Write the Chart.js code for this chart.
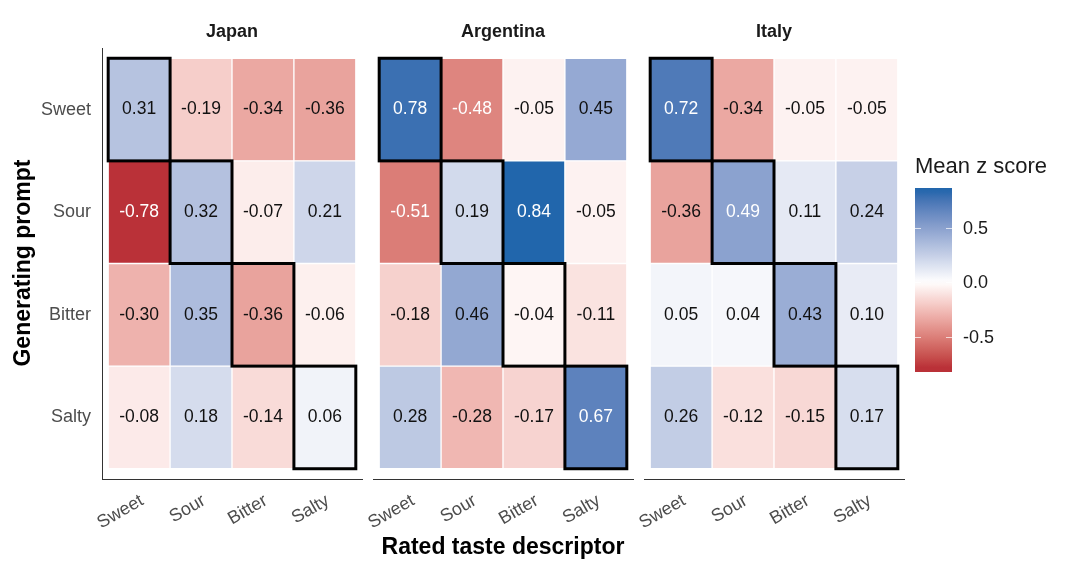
<!DOCTYPE html>
<html>
<head>
<meta charset="utf-8">
<script src="https://cdn.jsdelivr.net/npm/chart.js@4.4.1/dist/chart.umd.min.js"></script>
<style>
  body { margin: 0; background: #fff; }
  #wrap { position: relative; width: 1080px; height: 571px; overflow: hidden;
          font-family: "Liberation Sans", Arial, sans-serif; }
  canvas { position: absolute; top: 0; }
  .ptitle { position: absolute; top: 20px; width: 260px; text-align: center;
            font-weight: bold; font-size: 18px; line-height: 22px; color: #1a1a1a; }
  #xtitle { position: absolute; left: 303px; top: 532px; width: 400px; text-align: center;
            font-weight: bold; font-size: 23px; line-height: 28px; color: #000; }
  #ytitle { position: absolute; left: -128px; top: 249px; width: 300px; height: 28px;
            text-align: center; font-weight: bold; font-size: 23px; line-height: 28px;
            color: #000; transform: rotate(-90deg); }
  #ltitle { position: absolute; left: 915px; top: 153px; font-size: 22px; line-height: 26px; color: #1a1a1a; }
  #cbar { position: absolute; left: 915px; top: 188px; width: 37px; height: 184px; }
  .ltick { position: absolute; left: 963px; font-size: 18px; line-height: 20px; color: #1a1a1a; }
  .tmark { position: absolute; height: 1px; width: 6px; background: rgba(255,255,255,0.7); }
</style>
</head>
<body>
<div id="wrap">
  <canvas id="c0"></canvas>
  <canvas id="c1"></canvas>
  <canvas id="c2"></canvas>
  <div id="xtitle">Rated taste descriptor</div>
  <div id="ytitle">Generating prompt</div>
  <div id="ltitle">Mean z score</div>
  <div id="cbar"></div>
</div>
<script>
// rows = generating prompt, columns = rated taste descriptor
var prompts = ['Sweet', 'Sour', 'Bitter', 'Salty'];
var rated = ['Sweet', 'Sour', 'Bitter', 'Salty'];
var countries = ['Japan', 'Argentina', 'Italy'];

var japan = [
  [0.31, -0.19, -0.34, -0.36],
  [-0.78, 0.32, -0.07, 0.21],
  [-0.30, 0.35, -0.36, -0.06],
  [-0.08, 0.18, -0.14, 0.06]
];
var argentina = [
  [0.78, -0.48, -0.05, 0.45],
  [-0.51, 0.19, 0.84, -0.05],
  [-0.18, 0.46, -0.04, -0.11],
  [0.28, -0.28, -0.17, 0.67]
];
var italy = [
  [0.72, -0.34, -0.05, -0.05],
  [-0.36, 0.49, 0.11, 0.24],
  [0.05, 0.04, 0.43, 0.10],
  [0.26, -0.12, -0.15, 0.17]
];
var legendTicks = [0.5, 0.0, -0.5];

var FONT = '"Liberation Sans", Arial, sans-serif';
Chart.defaults.font.family = FONT;

// colour scale: red - white - blue, interpolated in Lab
function hexToRgb(h) {
  return [parseInt(h.slice(1, 3), 16), parseInt(h.slice(3, 5), 16), parseInt(h.slice(5, 7), 16)];
}
function toLin(c) { c /= 255; return c <= 0.04045 ? c / 12.92 : Math.pow((c + 0.055) / 1.055, 2.4); }
function fromLin(c) {
  var v = c <= 0.0031308 ? 12.92 * c : 1.055 * Math.pow(c, 1 / 2.4) - 0.055;
  return Math.round(Math.max(0, Math.min(1, v)) * 255);
}
function rgbToLab(rgb) {
  var R = toLin(rgb[0]), G = toLin(rgb[1]), B = toLin(rgb[2]);
  var X = (0.4124 * R + 0.3576 * G + 0.1805 * B) / 0.95047;
  var Y = 0.2126 * R + 0.7152 * G + 0.0722 * B;
  var Z = (0.0193 * R + 0.1192 * G + 0.9505 * B) / 1.08883;
  var f = function (t) { return t > 0.008856 ? Math.cbrt(t) : 7.787 * t + 16 / 116; };
  var fx = f(X), fy = f(Y), fz = f(Z);
  return [116 * fy - 16, 500 * (fx - fy), 200 * (fy - fz)];
}
function labToRgb(lab) {
  var fy = (lab[0] + 16) / 116, fx = fy + lab[1] / 500, fz = fy - lab[2] / 200;
  var inv = function (t) { return t * t * t > 0.008856 ? t * t * t : (t - 16 / 116) / 7.787; };
  var X = inv(fx) * 0.95047, Y = inv(fy), Z = inv(fz) * 1.08883;
  return [fromLin(3.2406 * X - 1.5372 * Y - 0.4986 * Z),
          fromLin(-0.9689 * X + 1.8758 * Y + 0.0415 * Z),
          fromLin(0.0557 * X - 0.2040 * Y + 1.0570 * Z)];
}
var lowLab = rgbToLab(hexToRgb('#B2182B'));
var midLab = rgbToLab(hexToRgb('#FFFFFF'));
var highLab = rgbToLab(hexToRgb('#2166AC'));
var allVals = japan.concat(argentina, italy).reduce(function (a, r) { return a.concat(r); }, []);
var vMin = Math.min.apply(null, allVals), vMax = Math.max.apply(null, allVals);
var lim = Math.max(Math.abs(vMin), Math.abs(vMax));

function fill(v) {
  var t = Math.min(1, Math.abs(v) / lim);
  var end = v < 0 ? lowLab : highLab;
  var lab = [0, 1, 2].map(function (k) { return midLab[k] + (end[k] - midLab[k]) * t; });
  var c = labToRgb(lab);
  return 'rgb(' + c[0] + ',' + c[1] + ',' + c[2] + ')';
}

var cellPlugin = {
  id: 'cells',
  afterDatasetsDraw: function (chart) {
    var m = chart.options.plugins.cells.matrix;
    var xs = chart.scales.x, ys = chart.scales.y, ctx = chart.ctx;
    ctx.save();
    // diagonal outlines
    ctx.strokeStyle = '#000';
    ctx.lineWidth = 3;
    for (var i = 0; i < rated.length; i++) {
      var x0 = xs.getPixelForValue(i - 0.5), x1 = xs.getPixelForValue(i + 0.5);
      var y0 = ys.getPixelForValue(prompts.length - i), y1 = ys.getPixelForValue(prompts.length - i - 1);
      ctx.strokeRect(x0, y0, x1 - x0, y1 - y0);
    }
    // values
    ctx.font = '17.5px ' + FONT;
    ctx.textAlign = 'center';
    ctx.textBaseline = 'middle';
    for (var r = 0; r < prompts.length; r++) {
      for (var c = 0; c < rated.length; c++) {
        var v = m[r][c];
        ctx.fillStyle = Math.abs(v) > 0.47 ? '#ffffff' : '#111111';
        ctx.fillText(v.toFixed(2), xs.getPixelForValue(c), ys.getPixelForValue(prompts.length - r - 0.5));
      }
    }
    ctx.restore();
  }
};

function makePanel(idx, matrix, areaLeft, showY) {
  var canvas = document.getElementById('c' + idx);
  var padL = showY ? 0 : 40, padR = 40, areaW = 260;
  var w = padL + (showY ? areaLeft : 0) + areaW + padR;
  var left = showY ? 0 : areaLeft - padL;
  canvas.width = w; canvas.height = 571;
  canvas.style.left = left + 'px';

  var datasets = [];
  for (var r = prompts.length - 1; r >= 0; r--) {
    datasets.push({
      label: prompts[r],
      data: rated.map(function (d, j) { return { x: j, y: 1 }; }),
      backgroundColor: matrix[r].map(fill),
      borderColor: '#ffffff',
      borderWidth: 1,
      borderSkipped: false,
      barPercentage: 1,
      categoryPercentage: 1
    });
  }

  var title = document.createElement('div');
  title.className = 'ptitle';
  title.style.left = areaLeft + 'px';
  title.textContent = countries[idx];
  document.getElementById('wrap').appendChild(title);

  new Chart(canvas, {
    type: 'bar',
    data: { datasets: datasets },
    plugins: [cellPlugin],
    options: {
      responsive: false,
      animation: false,
      events: [],
      layout: { padding: { left: padL, right: padR, top: 48, bottom: 0 } },
      plugins: { legend: { display: false }, tooltip: { enabled: false }, cells: { matrix: matrix } },
      scales: {
        x: {
          type: 'linear', stacked: true, offset: false, min: -0.6, max: 3.6,
          grid: { display: false, drawTicks: false },
          border: { display: true, color: '#333333', width: 1 },
          afterBuildTicks: function (s) { s.ticks = rated.map(function (d, j) { return { value: j }; }); },
          afterFit: function (s) { s.height = 92; },
          ticks: {
            autoSkip: false, minRotation: 30, maxRotation: 30, padding: 11, labelOffset: 3,
            color: '#4d4d4d', font: { size: 18 },
            callback: function (v) { return rated[v]; }
          }
        },
        y: {
          type: 'linear', stacked: true, min: -0.1, max: 4.1, display: showY,
          grid: { display: false, drawTicks: false },
          border: { display: true, color: '#333333', width: 1 },
          afterBuildTicks: function (s) { s.ticks = [0.5, 1.5, 2.5, 3.5].map(function (v) { return { value: v }; }); },
          afterFit: showY ? function (s) { s.width = areaLeft; } : undefined,
          ticks: {
            padding: 11, color: '#4d4d4d', font: { size: 18 },
            callback: function (v) { return prompts[prompts.length - 1 - Math.floor(v)]; }
          }
        }
      }
    }
  });
}

makePanel(0, japan, 102, true);
makePanel(1, argentina, 373, false);
makePanel(2, italy, 644, false);

// colour bar legend
var bar = document.getElementById('cbar');
var barTop = 188, barH = 184, zeroY = 282, pxPerUnit = 109;
var stops = [];
for (var k = 0; k <= 40; k++) {
  var yy = barH * k / 40;
  var v = (zeroY - (barTop + yy)) / pxPerUnit;
  v = Math.max(vMin, Math.min(vMax, v));
  stops.push(fill(v) + ' ' + (100 * k / 40).toFixed(1) + '%');
}
bar.style.background = 'linear-gradient(to bottom, ' + stops.join(', ') + ')';
var wrap = document.getElementById('wrap');
legendTicks.forEach(function (t) {
  var y = zeroY - t * pxPerUnit;
  var lab = document.createElement('div');
  lab.className = 'ltick';
  lab.style.top = (y - 10) + 'px';
  lab.textContent = t.toFixed(1);
  wrap.appendChild(lab);
  [915, 946].forEach(function (x) {
    var mk = document.createElement('div');
    mk.className = 'tmark';
    mk.style.left = x + 'px';
    mk.style.top = Math.round(y) + 'px';
    wrap.appendChild(mk);
  });
});
</script>
</body>
</html>
